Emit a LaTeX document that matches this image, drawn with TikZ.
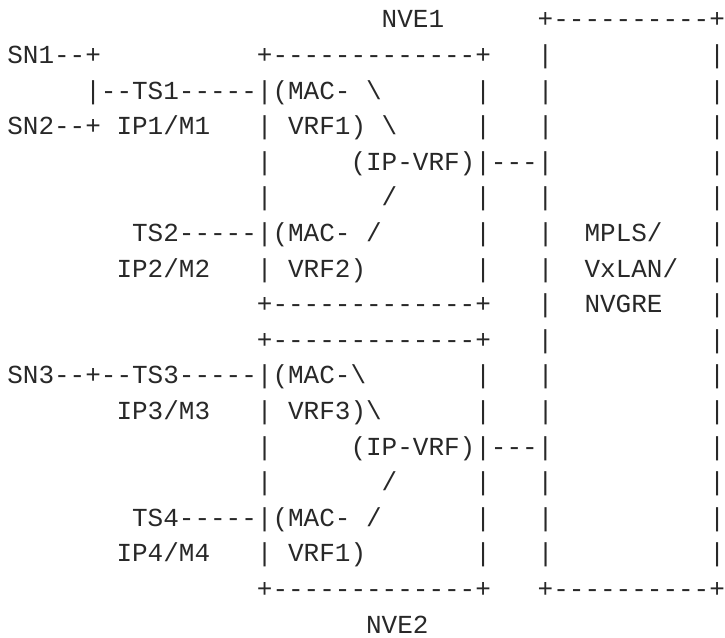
\documentclass[tikz,border=0pt]{standalone}
\usepackage{fontspec}
\setmonofont{Liberation Mono}
\definecolor{textc}{RGB}{40,40,40}
\tikzset{
  asciirow/.style={inner sep=0pt, outer sep=0pt, anchor=base west, text=textc,
    font=\ttfamily\fontsize{26}{30}\selectfont}
}
\newcommand{\bs}{\textbackslash}
\begin{document}
\begin{tikzpicture}[x=1pt,y=1pt]
\useasboundingbox (0,0) rectangle (725,-637);
% column c left edge: 7.3+15.6c ; row k baseline: 27.8+35.6k
\node[asciirow] (r0)  at ({7.3+15.6*24}, {-(27.8+35.6*0)})  {NVE1~~~~~~+----------+};
\node[asciirow] (r1)  at ({7.3+15.6*0},  {-(27.8+35.6*1)})  {SN1--+~~~~~~~~~~+-------------+~~~|~~~~~~~~~~|};
\node[asciirow] (r2)  at ({7.3+15.6*5},  {-(27.8+35.6*2)})  {|--TS1-----|(MAC-~\bs~~~~~~|~~~|~~~~~~~~~~|};
\node[asciirow] (r3)  at ({7.3+15.6*0},  {-(27.8+35.6*3)})  {SN2--+~IP1/M1~~~|~VRF1)~\bs~~~~~|~~~|~~~~~~~~~~|};
\node[asciirow] (r4)  at ({7.3+15.6*16}, {-(27.8+35.6*4)})  {|~~~~~(IP-VRF)|---|~~~~~~~~~~|};
\node[asciirow] (r5)  at ({7.3+15.6*16}, {-(27.8+35.6*5)})  {|~~~~~~~/~~~~~|~~~|~~~~~~~~~~|};
\node[asciirow] (r6)  at ({7.3+15.6*8},  {-(27.8+35.6*6)})  {TS2-----|(MAC-~/~~~~~~|~~~|~~MPLS/~~~|};
\node[asciirow] (r7)  at ({7.3+15.6*7},  {-(27.8+35.6*7)})  {IP2/M2~~~|~VRF2)~~~~~~~|~~~|~~VxLAN/~~|};
\node[asciirow] (r8)  at ({7.3+15.6*16}, {-(27.8+35.6*8)})  {+-------------+~~~|~~NVGRE~~~|};
\node[asciirow] (r9)  at ({7.3+15.6*16}, {-(27.8+35.6*9)})  {+-------------+~~~|~~~~~~~~~~|};
\node[asciirow] (r10) at ({7.3+15.6*0},  {-(27.8+35.6*10)}) {SN3--+--TS3-----|(MAC-\bs~~~~~~~|~~~|~~~~~~~~~~|};
\node[asciirow] (r11) at ({7.3+15.6*7},  {-(27.8+35.6*11)}) {IP3/M3~~~|~VRF3)\bs~~~~~~|~~~|~~~~~~~~~~|};
\node[asciirow] (r12) at ({7.3+15.6*16}, {-(27.8+35.6*12)}) {|~~~~~(IP-VRF)|---|~~~~~~~~~~|};
\node[asciirow] (r13) at ({7.3+15.6*16}, {-(27.8+35.6*13)}) {|~~~~~~~/~~~~~|~~~|~~~~~~~~~~|};
\node[asciirow] (r14) at ({7.3+15.6*8},  {-(27.8+35.6*14)}) {TS4-----|(MAC-~/~~~~~~|~~~|~~~~~~~~~~|};
\node[asciirow] (r15) at ({7.3+15.6*7},  {-(27.8+35.6*15)}) {IP4/M4~~~|~VRF1)~~~~~~~|~~~|~~~~~~~~~~|};
\node[asciirow] (r16) at ({7.3+15.6*16}, {-(27.8+35.6*16)}) {+-------------+~~~+----------+};
\node[asciirow] (r17) at ({7.3+15.6*23}, {-(27.8+35.6*17)}) {NVE2};
\end{tikzpicture}
\end{document}
